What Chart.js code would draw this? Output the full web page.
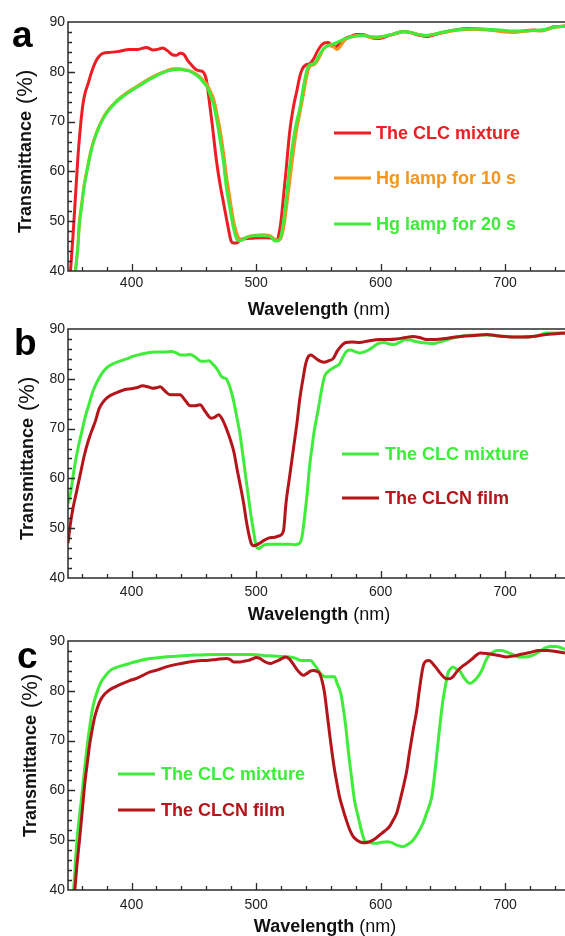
<!DOCTYPE html>
<html><head><meta charset="utf-8">
<script src="https://cdn.jsdelivr.net/npm/chart.js@4.4.1/dist/chart.umd.min.js"></script>
<style>
html,body{margin:0;padding:0;background:#fff;overflow:hidden;width:565px;height:936px;}
.panel{position:absolute;left:0;width:565px;}
canvas{display:block;}
</style></head><body>
<div class="panel" style="top:0px"><canvas id="ca" width="565" height="320"></canvas></div>
<div class="panel" style="top:308px"><canvas id="cb" width="565" height="318"></canvas></div>
<div class="panel" style="top:618px"><canvas id="cc" width="565" height="318"></canvas></div>
<script>
// ---------- tick labels ----------
const xTickValues = [400, 500, 600, 700];
const yTickValues = [40, 50, 60, 70, 80, 90];
const xTitleBold = 'Wavelength';
const xTitleUnit = '(nm)';
const yTitleBold = 'Transmittance';
const yTitleUnit = '(%)';

// ---------- series names ----------
const namesA = ['The CLC mixture', 'Hg lamp for 10 s', 'Hg lamp for 20 s'];
const namesBC = ['The CLC mixture', 'The CLCN film'];

// ---------- panel a: [wavelength nm, transmittance %] ----------
const aCLC = [[351,40],[353,47],[355,55],[357,63],[359,69],[361,73.5],[363,76],[365,77.5],[368,80],[372,82.4],[377,83.7],[383,83.9],[390,84.1],[398,84.5],[405,84.5],[412,84.9],[417,84.4],[421,84.5],[425,84.8],[429,84.2],[433,83.4],[436,83.3],[439,83.7],[442,83.5],[445,82.3],[448,81.4],[452,80.4],[455,80.2],[458,79.8],[460,78.5],[462,75],[465,69],[468,62.5],[471,57.5],[474,53.5],[477,49.5],[480,46],[482,45.6],[485,45.7],[488,46.4],[492,46.5],[497,46.6],[502,46.7],[507,46.7],[512,46.6],[515,46.3],[517,46.2],[518,47],[520,50],[522,55],[524,60],[527,68],[530,73],[533,76.5],[535,79],[537,80.5],[540,81.4],[543,81.6],[546,82.5],[549,84],[552,85.2],[555,85.8],[558,85.9],[561,85.2],[564,85],[567,85.7],[571,86.6],[576,87.1],[581,87.5],[586,87.5],[591,87],[596,86.7],[601,86.8],[607,87.3],[613,87.8],[618,88.1],[624,87.9],[630,87.4],[637,87.1],[644,87.5],[652,88],[660,88.4],[669,88.7],[679,88.6],[690,88.4],[700,88.1],[706,88],[715,88.2],[722,88.4],[728,88.3],[734,88.6],[738,89],[743,89.1],[748,89.2]];
const aHg10 = [[355,40],[357,45.5],[358,49.5],[360,53.5],[362,57.3],[365,61.3],[368,64.8],[372,67.9],[376,70.2],[380,71.9],[385,73.4],[390,74.6],[395,75.6],[401,76.6],[407,77.5],[414,78.6],[420,79.4],[428,80.2],[434,80.6],[439,80.6],[443,80.4],[447,80.2],[451,79.7],[455,79],[458,78.2],[461,77.3],[463,76.2],[466,74.5],[469,71],[471,68.5],[474,63.5],[476,59.5],[479,54.5],[482,50],[485,47.2],[488,46.3],[491,46.6],[495,47],[500,47.2],[505,47.3],[510,47.2],[513,46.8],[515,46.3],[518,46.2],[520,46.6],[522,48.5],[524,52],[527,58],[530,64],[533,69],[535,71.5],[538,75.5],[541,79.5],[543,81],[547,81.5],[550,82.5],[554,84.5],[558,85.3],[562,85],[565,84.5],[568,85.2],[571,86.3],[576,87],[581,87.3],[586,87.4],[591,87],[596,86.8],[601,87],[607,87.4],[613,87.7],[618,88],[624,87.9],[630,87.5],[637,87.3],[644,87.6],[652,88],[660,88.3],[669,88.5],[679,88.5],[690,88.3],[700,88],[706,87.9],[715,88.1],[722,88.3],[728,88.2],[734,88.5],[738,88.9],[743,89],[748,89.2]];
const aHg20 = [[355,40],[357,45],[358,49],[360,53],[362,57],[365,61],[368,64.5],[372,67.7],[376,70],[380,71.7],[385,73.2],[390,74.4],[395,75.4],[401,76.4],[407,77.3],[414,78.4],[420,79.2],[428,80.1],[434,80.4],[439,80.5],[443,80.3],[447,80.1],[451,79.5],[455,78.7],[458,77.8],[461,76.8],[463,75.5],[466,73.3],[469,69.5],[471,66.4],[474,61.5],[476,57],[479,52.5],[482,48.5],[485,46.2],[488,46.1],[491,46.6],[495,47],[500,47.1],[505,47.1],[510,47],[513,46.6],[515,46],[518,46.1],[520,47],[522,50],[524,54],[527,61],[530,66.5],[533,70.5],[535,72.5],[538,77],[541,80.5],[543,81.4],[547,81.7],[550,83],[554,84.6],[558,85.3],[562,85.6],[566,86],[571,86.6],[576,87],[581,87.2],[586,87.3],[591,87.1],[596,87],[601,87.1],[607,87.4],[613,87.8],[618,88.1],[624,87.9],[630,87.5],[637,87.3],[644,87.6],[652,88.1],[660,88.4],[669,88.6],[679,88.6],[690,88.5],[700,88.3],[706,88.2],[715,88.2],[722,88.3],[728,88.4],[734,88.6],[738,88.9],[743,89.1],[748,89.2]];

// ---------- panel b ----------
const bCLC = [[349,55],[351,57],[354,62],[357,66],[360,69.3],[363,72.5],[366,75],[369,77.5],[372,79.2],[376,81],[380,82.2],[385,83],[390,83.5],[396,84],[401,84.5],[407,84.9],[412,85.2],[420,85.4],[426,85.4],[432,85.5],[436,85.2],[439,84.8],[443,84.8],[447,84.9],[451,84.4],[455,83.6],[458,83.5],[462,83.6],[465,83],[468,82.2],[470,81.4],[472,80.5],[474,80.2],[476,80],[478,79],[480,77.5],[482,75.5],[484,73],[487,69],[490,63.5],[492,59.7],[494,56],[496,52.4],[498,49.3],[500,46.5],[502,45.9],[504,46.2],[507,46.7],[511,46.8],[516,46.8],[522,46.8],[527,46.8],[531,46.7],[535,47],[537,48.5],[539,52.4],[541,57],[543,62.5],[545,66.5],[547,70],[550,74],[552,77],[555,80.5],[558,81.5],[562,82.2],[565,82.6],[567,83],[570,84.5],[573,85.6],[576,85.8],[579,85.5],[583,85.2],[587,85.4],[591,85.9],[595,86.6],[599,87.2],[603,87.3],[607,87],[611,86.9],[615,87.3],[620,87.9],[624,87.8],[628,87.5],[632,87.3],[637,87.2],[641,87.1],[645,87.2],[650,87.6],[655,88],[660,88.3],[668,88.7],[676,88.8],[685,88.8],[695,88.6],[706,88.4],[714,88.4],[722,88.5],[728,88.8],[733,89.2],[740,89.2],[748,89.2]];
const bCLCN = [[349,47],[351,51],[353,54],[356,57.5],[359,61],[362,64.5],[365,67.3],[368,69.5],[371,71.5],[374,74],[378,75.6],[382,76.5],[387,77.1],[393,77.7],[399,78],[404,78.2],[409,78.6],[413,78.4],[417,78.1],[420,78.2],[423,78.4],[427,77.5],[431,76.8],[435,76.8],[439,76.8],[443,75.7],[447,74.6],[451,74.6],[455,74.8],[459,73.5],[464,72.1],[467,72.3],[470,72.8],[473,71.8],[476,70.1],[479,68],[482,65.5],[485,61.5],[487,59],[490,55],[492,51.7],[494,49],[496,47],[498,46.5],[500,46.6],[503,47],[506,47.5],[510,48],[515,48.2],[519,48.5],[522,49.5],[524,55],[527,60.5],[530,66],[533,71.5],[535,75.8],[538,80.5],[540,83.2],[542,84.5],[544,84.8],[546,84.5],[548,84.1],[551,83.6],[555,83.3],[558,83.6],[562,84.1],[565,85.5],[568,86.5],[572,87.3],[577,87.4],[583,87.3],[590,87.6],[599,87.9],[606,87.9],[613,88],[620,88.3],[626,88.5],[631,88.3],[637,87.9],[644,87.9],[652,88.1],[660,88.4],[668,88.6],[676,88.7],[685,88.9],[695,88.6],[706,88.4],[714,88.4],[722,88.5],[730,88.8],[738,89],[748,89.2]];

// ---------- panel c ----------
const cCLC = [[353.5,40],[356,49.4],[358,54.5],[360,58.7],[362,63.5],[364,68.1],[366,72],[369,76.8],[372,79.5],[375,81.5],[379,83],[383,84.1],[388,84.7],[393,85.1],[400,85.6],[407,86.1],[415,86.5],[423,86.7],[433,86.9],[444,87.1],[455,87.2],[466,87.3],[480,87.3],[497,87.3],[506,87.1],[514,87],[520,86.9],[527,86.8],[532,86.5],[536,86.1],[540,86.1],[544,86.1],[546,85.5],[549,84.5],[552,83.4],[556,82.8],[560,82.8],[563,82.8],[565,81.5],[568,79.5],[570,76.5],[572,72.8],[574,68],[576.6,62.7],[579,58],[582,54.7],[585,51.5],[587,50],[590,49.6],[594,49.4],[597,49.4],[601,49.6],[605,49.7],[609,49.5],[613,49],[618,48.7],[622,49.2],[626,50],[630,51.5],[634,53.4],[637,55.5],[641,58.7],[643,62.5],[646,69.4],[648,74],[650,78.1],[652,81],[654,83.5],[656,84.4],[658,84.8],[661,84.3],[664,83.8],[667,82.6],[670,81.7],[672,81.5],[675,82],[678,82.8],[681,84],[684,85.8],[686,86.8],[690,87.7],[693,88.1],[697,88.1],[701,87.8],[706,87.3],[711,86.8],[716,86.8],[722,87.1],[727,87.8],[733,88.7],[737,88.9],[741,88.9],[745,88.6],[748,88.3]];
const cCLCN = [[354.5,40],[356,44.5],[358.5,50.7],[360.5,56],[362.5,61.4],[364.5,65.5],[366.5,69.4],[368.5,72.3],[370.5,74.8],[372.5,76.5],[375,78.1],[378,79.2],[382,80.1],[387,80.8],[393,81.5],[398,82],[404,82.5],[409,83.1],[415,83.8],[421,84.2],[428,84.8],[436,85.3],[444,85.7],[452,86],[460,86.1],[468,86.3],[476,86.5],[479,86.3],[482,85.8],[487,85.8],[491,86],[494,86.1],[497,86.4],[500,86.7],[503,86.5],[506,86],[509,85.6],[512,85.5],[515,85.8],[518,86.1],[521,86.5],[524,86.8],[527,86.3],[530,85.3],[533,84.2],[536,83.4],[538,83.1],[541,83.5],[544,84],[546,84.1],[549,83.9],[551,83.5],[553,82],[555,79.5],[557,75.5],[559,71.4],[561,67.5],[563,64.1],[565,61.3],[567,58.7],[570,56],[572.5,54],[575,52.2],[578,50.7],[581,50],[584,49.6],[588,49.5],[591,49.7],[595,50.2],[599,51],[603,51.8],[607,52.7],[610,54],[613,55.5],[615,57.4],[618,60.5],[621,64],[623,67.4],[626,72],[629,76.1],[631,80],[634,84.8],[636,85.9],[639,86.1],[642,85.4],[645,84.5],[648,83.5],[652,82.5],[655,82.4],[658,82.8],[661,83.8],[665,84.8],[669,85.5],[673,86.3],[677,87.2],[680,87.6],[685,87.5],[690,87.3],[695,87.1],[701,86.8],[707,87],[714,87.4],[720,87.7],[727,88.1],[734,88.1],[741,87.9],[748,87.6]];

// ---------- styling ----------
const COL_RED = '#ee1d23';
const COL_ORANGE = '#f7941d';
const COL_GREEN = '#3fec3a';
const COL_DARKRED = '#b3151b';
const AXIS_COL = '#2b2b2b';
const FONT = '"Liberation Sans", Arial, Helvetica, sans-serif';

function toPts(arr){ return arr.map(p => ({x:p[0], y:p[1]})); }
function ds(label, arr, color, order){
  return {label, data: toPts(arr), borderColor: color, backgroundColor: color,
    borderWidth: 3, showLine: true, pointRadius: 0, fill: false,
    cubicInterpolationMode: 'monotone', order};
}

function decor(p){
  return {
    id: 'decor',
    afterDatasetsDraw(chart){
      const ctx = chart.ctx, a = chart.chartArea;
      const xs = chart.scales.x, ys = chart.scales.y;
      ctx.save();
      // frame (top, left, bottom)
      ctx.strokeStyle = AXIS_COL; ctx.lineWidth = 1.5;
      ctx.beginPath();
      ctx.moveTo(a.right + 2, a.top); ctx.lineTo(a.left, a.top);
      ctx.lineTo(a.left, a.bottom); ctx.lineTo(a.right + 2, a.bottom);
      ctx.stroke();
      // inward ticks
      ctx.lineWidth = 1.3;
      ctx.beginPath();
      for (let v = 360; v <= 740; v += 20){
        const x = Math.round(xs.getPixelForValue(v)) + 0.5;
        const len = (v % 100 === 0) ? 7 : 4;
        ctx.moveTo(x, a.bottom); ctx.lineTo(x, a.bottom - len);
      }
      for (let v = 42; v <= 88; v += 2){
        const y = Math.round(ys.getPixelForValue(v)) + 0.5;
        const len = (v % 10 === 0) ? 7 : 4;
        ctx.moveTo(a.left, y); ctx.lineTo(a.left + len, y);
      }
      ctx.stroke();
      // panel letter
      ctx.fillStyle = '#000';
      ctx.font = 'bold 37px ' + FONT;
      ctx.textAlign = 'left'; ctx.textBaseline = 'alphabetic';
      ctx.fillText(p.letter, p.letterX, p.letterY);
      // x title
      ctx.fillStyle = '#111';
      ctx.font = 'bold 18px ' + FONT;
      const w1 = ctx.measureText(xTitleBold).width;
      ctx.font = '18px ' + FONT;
      const wsp = 5;
      const w2 = ctx.measureText(xTitleUnit).width;
      let x0 = p.xTitleCx - (w1 + wsp + w2) / 2;
      ctx.font = 'bold 18px ' + FONT;
      ctx.fillText(xTitleBold, x0, p.xTitleBase);
      ctx.font = '18px ' + FONT;
      ctx.fillText(xTitleUnit, x0 + w1 + wsp, p.xTitleBase);
      // y title (rotated)
      ctx.save();
      ctx.translate(p.yTitleX, p.yTitleBottom);
      ctx.rotate(-Math.PI / 2);
      ctx.textBaseline = 'middle';
      ctx.font = 'bold 18px ' + FONT;
      ctx.fillText(yTitleBold, 0, 1);
      const tw = ctx.measureText(yTitleBold).width;
      ctx.font = '22px ' + FONT;
      ctx.fillText(yTitleUnit, tw + 7, 1);
      ctx.restore();
      // legend
      const L = p.legend;
      ctx.font = 'bold 18px ' + FONT;
      ctx.textBaseline = 'middle';
      L.items.forEach((it, i) => {
        const y = L.rows[i];
        ctx.strokeStyle = it.color; ctx.lineWidth = 3;
        ctx.beginPath(); ctx.moveTo(L.x0, y); ctx.lineTo(L.x1, y); ctx.stroke();
        ctx.fillStyle = it.color;
        ctx.fillText(it.name, L.tx, y + 1);
      });
      ctx.restore();
    }
  };
}

function makeChart(id, datasets, p){
  return new Chart(document.getElementById(id), {
    type: 'scatter',
    data: {datasets},
    options: {
      responsive: false, animation: false, devicePixelRatio: 1,
      layout: {padding: {top: p.padTop, left: 0, right: 0, bottom: 0}},
      plugins: {legend: {display: false}, tooltip: {enabled: false}, title: {display: false}},
      scales: {
        x: {type: 'linear', min: 349, max: 748,
            grid: {display: false, drawTicks: false}, border: {display: false},
            afterBuildTicks: s => { s.ticks = xTickValues.map(v => ({value: v})); },
            afterFit: s => { s.height = p.xAxisH; },
            ticks: {padding: p.xPad, color: '#222', autoSkip: false, maxRotation: 0,
                    font: {family: FONT, size: 14}}},
        y: {type: 'linear', min: 40, max: 90,
            grid: {display: false, drawTicks: false}, border: {display: false},
            afterBuildTicks: s => { s.ticks = yTickValues.map(v => ({value: v})); },
            afterFit: s => { s.width = 68; },
            ticks: {padding: 3, color: '#222', font: {family: FONT, size: 14}}}
      }
    },
    plugins: [decor(p)]
  });
}

makeChart('ca', [
  ds(namesA[2], aHg20, COL_GREEN, 0),
  ds(namesA[1], aHg10, COL_ORANGE, 1),
  ds(namesA[0], aCLC, COL_RED, 2)
], {padTop: 22, xAxisH: 49, xPad: 4, letter: 'a', letterX: 12, letterY: 47,
    yTitleX: 25, yTitleBottom: 233, xTitleCx: 319, xTitleBase: 315,
    legend: {x0: 334, x1: 371, tx: 376, rows: [133, 178, 224],
      items: [{name: namesA[0], color: COL_RED}, {name: namesA[1], color: COL_ORANGE}, {name: namesA[2], color: COL_GREEN}]}});

makeChart('cb', [
  ds(namesBC[1], bCLCN, COL_DARKRED, 0),
  ds(namesBC[0], bCLC, COL_GREEN, 1)
], {padTop: 21, xAxisH: 48, xPad: 6, letter: 'b', letterX: 14, letterY: 47,
    yTitleX: 27, yTitleBottom: 232, xTitleCx: 319, xTitleBase: 312,
    legend: {x0: 342, x1: 379, tx: 385, rows: [146, 190],
      items: [{name: namesBC[0], color: COL_GREEN}, {name: namesBC[1], color: COL_DARKRED}]}});

makeChart('cc', [
  ds(namesBC[1], cCLCN, COL_DARKRED, 0),
  ds(namesBC[0], cCLC, COL_GREEN, 1)
], {padTop: 23, xAxisH: 46, xPad: 7, letter: 'c', letterX: 17, letterY: 50,
    yTitleX: 30, yTitleBottom: 219, xTitleCx: 325, xTitleBase: 314,
    legend: {x0: 118, x1: 155, tx: 161, rows: [156, 192],
      items: [{name: namesBC[0], color: COL_GREEN}, {name: namesBC[1], color: COL_DARKRED}]}});
</script>
</body></html>
